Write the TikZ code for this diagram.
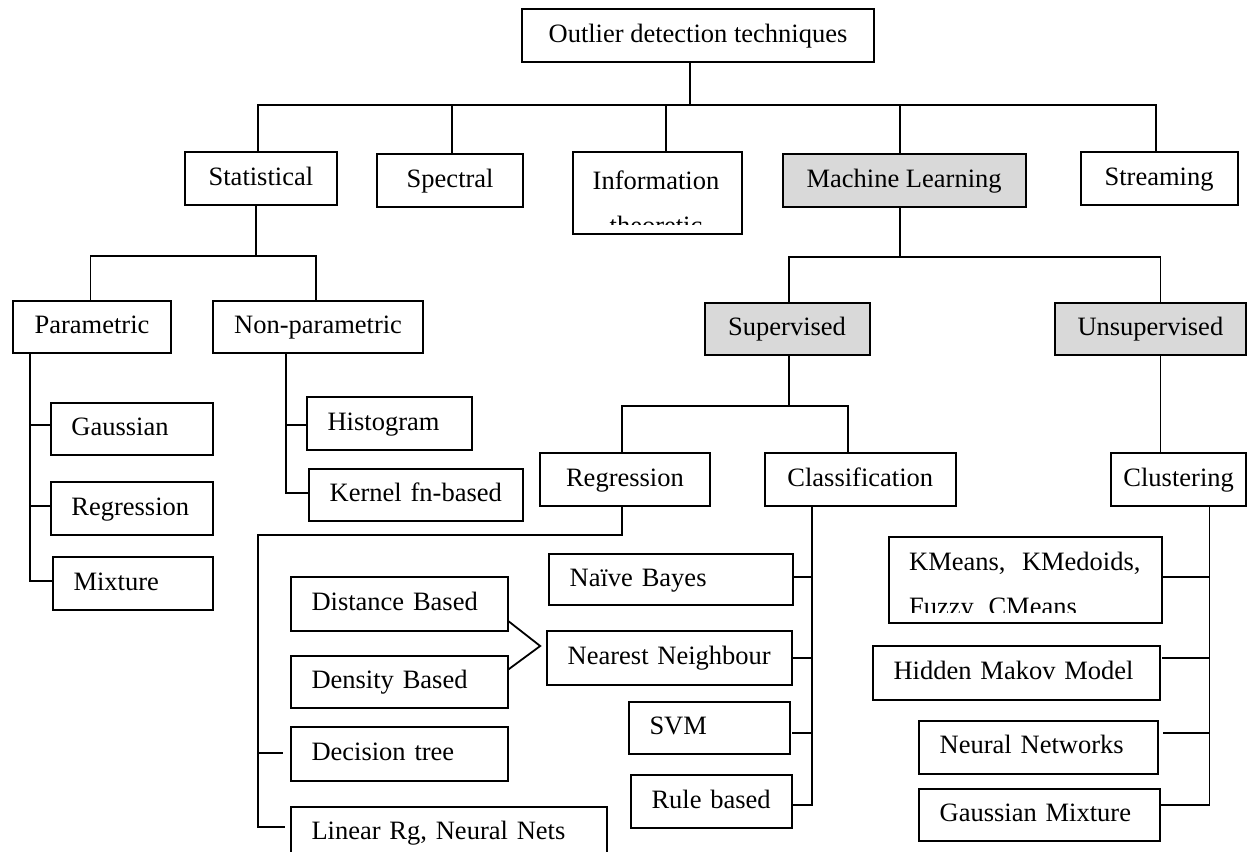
\documentclass[tikz,border=0pt]{standalone}
\usepackage{fontspec}
\setmainfont{Liberation Serif}
\usetikzlibrary{calc}
\definecolor{lgray}{HTML}{D9D9D9}
\tikzset{
  bx/.style={draw=black, line width=1pt, fill=white, anchor=north west, inner sep=0pt,
    font=\fontsize{13.25pt}{22.5pt}\selectfont, text height=0.66em, text depth=0pt},
  gr/.style={fill=lgray},
  txt/.style={inner sep=0pt, font=\fontsize{13.25pt}{22.5pt}\selectfont},
  ln/.style={line width=0.9pt, line join=miter}
}
\newcommand{\mkcbox}[6][]{\node[bx,#1,minimum width=#4*0.5pt,minimum height=#5*0.5pt] (#2) at (#3) {#6};}
\newcommand{\mklbox}[5]{\pgfmathsetmacro\tw{(#3-41.4)/2}\node[bx,align=left,inner xsep=10.35pt,text width=\tw pt,minimum height=#4*0.5pt] (#1) at (#2) {\mbox{#5}};}
\begin{document}
\begin{tikzpicture}[x=0.5pt,y=-0.5pt]
\useasboundingbox (0,0) rectangle (1250,852);
\clip (0,0) rectangle (1250,852);

% ---------- boxes ----------
\mkcbox{top}{521,8}{352}{53}{Outlier detection techniques}
\mkcbox{stat}{183.6,151}{152.6}{53}{Statistical}
\mkcbox{spec}{376,153}{146.3}{53}{Spectral}
\mkcbox{info}{571.6,151}{169}{82}{}
\mkcbox[gr]{ml}{781.6,153}{243}{53}{Machine Learning}
\mkcbox{strm}{1079.6,151}{157}{53}{Streaming}
\mkcbox{par}{11.6,300}{158.8}{52}{Parametric}
\mkcbox{npar}{211.8,300}{210.6}{52}{Non-parametric}
\mklbox{gau}{49.7,402}{162.5}{52}{Gaussian}
\mklbox{regp}{49.7,481}{162.5}{53}{Regression}
\mklbox{mix}{51.8,556}{160.4}{53}{Mixture}
\mklbox{hist}{305.9,396}{164.6}{53}{Histogram}
\mklbox{kern}{308,468}{214.3}{52}{Kernel fn-based}
\mkcbox[gr]{sup}{703.6,302}{165}{52}{Supervised}
\mkcbox[gr]{uns}{1053.9,302}{191}{52}{Unsupervised}
\mkcbox{regs}{539.3,452}{169.3}{53}{Regression}
\mkcbox{cls}{763.7,452}{191.2}{53}{Classification}
\mkcbox{clu}{1109.9,452}{135.5}{53}{Clustering}
\mklbox{dist}{289.8,575.7}{216.8}{54}{Distance Based}
\mklbox{dens}{289.8,654.7}{216.8}{52}{Density Based}
\mklbox{dec}{289.8,725.7}{216.8}{54.3}{Decision tree}
\mklbox{lin}{289.8,805.7}{316.2}{52}{Linear Rg, Neural Nets}
\mklbox{nb}{548,553}{244}{51.3}{Naïve Bayes}
\mklbox{nn}{546,629.7}{244.7}{54}{Nearest Neighbour}
\mklbox{svm}{627.8,701}{160.8}{52.3}{SVM}
\mklbox{rule}{629.8,774.3}{160.9}{52.4}{Rule based}
\mkcbox{km}{888.1,535.7}{272.4}{86.3}{}
\mklbox{hmm}{871.9,645}{286.9}{54.3}{Hidden Makov Model}
\mklbox{nnet}{918,720}{238.7}{52.7}{Neural Networks}
\mklbox{gmix}{918,787.7}{240.8}{52.3}{Gaussian Mixture}

% clipped two-line texts
\begin{scope}
  \clip (info.north west) rectangle ($(info.south east)+(0,-11)$);
  \node[txt, anchor=north, align=center] (infot) at (656,170) {Information\\theoretic};
\end{scope}
\begin{scope}
  \clip (km.north west) rectangle ($(km.south east)+(0,-11.3)$);
  \node[txt, anchor=north west, align=left] (kmt) at (908.8,552) {KMeans,\hspace{0.62em}KMedoids,\\Fuzzy\hspace{0.55em}CMeans};
\end{scope}

% ---------- connectors ----------
% level 1
\coordinate (t0) at (690,105);
\coordinate (b1l) at (258,105);
\coordinate (b1r) at (1156,105);
\coordinate (b1s) at (451.8,105);
\coordinate (b1i) at (666.3,105);
\coordinate (b1m) at (900,105);
\draw[ln] (t0 |- top.south) -- (t0);
\draw[ln] (b1l |- stat.north) -- (b1l) -- (b1r) -- (b1r |- strm.north);
\draw[ln] (b1s) -- (b1s |- spec.north);
\draw[ln] (b1i) -- (b1i |- info.north);
\draw[ln] (b1m) -- (b1m |- ml.north);

% statistical
\coordinate (s0) at (256.2,256);
\coordinate (s1l) at (90.4,256);
\coordinate (s1r) at (316.3,256);
\draw[ln] (s0 |- stat.south) -- (s0);
\draw[ln] (s1l |- par.north) -- (s1l) -- (s1r) -- (s1r |- npar.north);

% parametric
\coordinate (pa) at (30.3,425);
\coordinate (pb) at (30.3,506);
\coordinate (pc) at (30.3,581);
\draw[ln] (pc |- par.south) -- (pc) -- (pc -| mix.west);
\draw[ln] (pa) -- (pa -| gau.west);
\draw[ln] (pb) -- (pb -| regp.west);

% non-parametric
\coordinate (na) at (286,425);
\coordinate (nk) at (286,493);
\draw[ln] (nk |- npar.south) -- (nk) -- (nk -| kern.west);
\draw[ln] (na) -- (na -| hist.west);

% machine learning
\coordinate (m0) at (900,257);
\coordinate (m1l) at (788.6,257);
\coordinate (m1r) at (1160.5,257);
\draw[ln] (m0 |- ml.south) -- (m0);
\draw[ln] (m1l |- sup.north) -- (m1l) -- (m1r) -- (m1r |- uns.north);

% supervised
\coordinate (u0) at (788.6,406);
\coordinate (u1l) at (622,406);
\coordinate (u1r) at (848.3,406);
\draw[ln] (u0 |- sup.south) -- (u0);
\draw[ln] (u1l |- regs.north) -- (u1l) -- (u1r) -- (u1r |- cls.north);

% unsupervised
\draw[ln] (m1r |- uns.south) -- (m1r |- clu.north);

% regression (supervised)
\coordinate (r0) at (622,535);
\coordinate (r1) at (257.8,535);
\coordinate (rd) at (257.8,752.7);
\coordinate (rl) at (257.8,826.7);
\draw[ln, shorten >=2.4pt] (r0 |- regs.south) -- (r0) -- (r1) -- (rl) -- (rl -| lin.west);
\draw[ln, shorten >=3.3pt] (rd) -- (rd -| dec.west);

% distance / density -> nearest neighbour
\coordinate (vt) at (540.2,646);
\draw[ln] ($(dist.south east)+(0,-10.4)$) -- (vt) -- ($(dens.north east)+(0,14.6)$);

% classification
\coordinate (k0) at (812.2,577.3);
\coordinate (k1) at (812.2,658.3);
\coordinate (k2) at (812.2,733.3);
\coordinate (k3) at (812.2,805);
\draw[ln] (k3 |- cls.south) -- (k3) -- (k3 -| rule.east);
\draw[ln] (k0) -- (k0 -| nb.east);
\draw[ln] (k1) -- (k1 -| nn.east);
\draw[ln, shorten >=0.6pt] (k2) -- (k2 -| svm.east);

% clustering
\coordinate (q0) at (1209.4,577.3);
\coordinate (q1) at (1209.4,658.3);
\coordinate (q2) at (1209.4,733.3);
\coordinate (q3) at (1209.4,805);
\draw[ln] (q3 |- clu.south) -- (q3) -- (q3 -| gmix.east);
\draw[ln] (q0) -- (q0 -| km.east);
\draw[ln, shorten >=0.8pt] (q1) -- (q1 -| hmm.east);
\draw[ln, shorten >=1.9pt] (q2) -- (q2 -| nnet.east);
\end{tikzpicture}
\end{document}
